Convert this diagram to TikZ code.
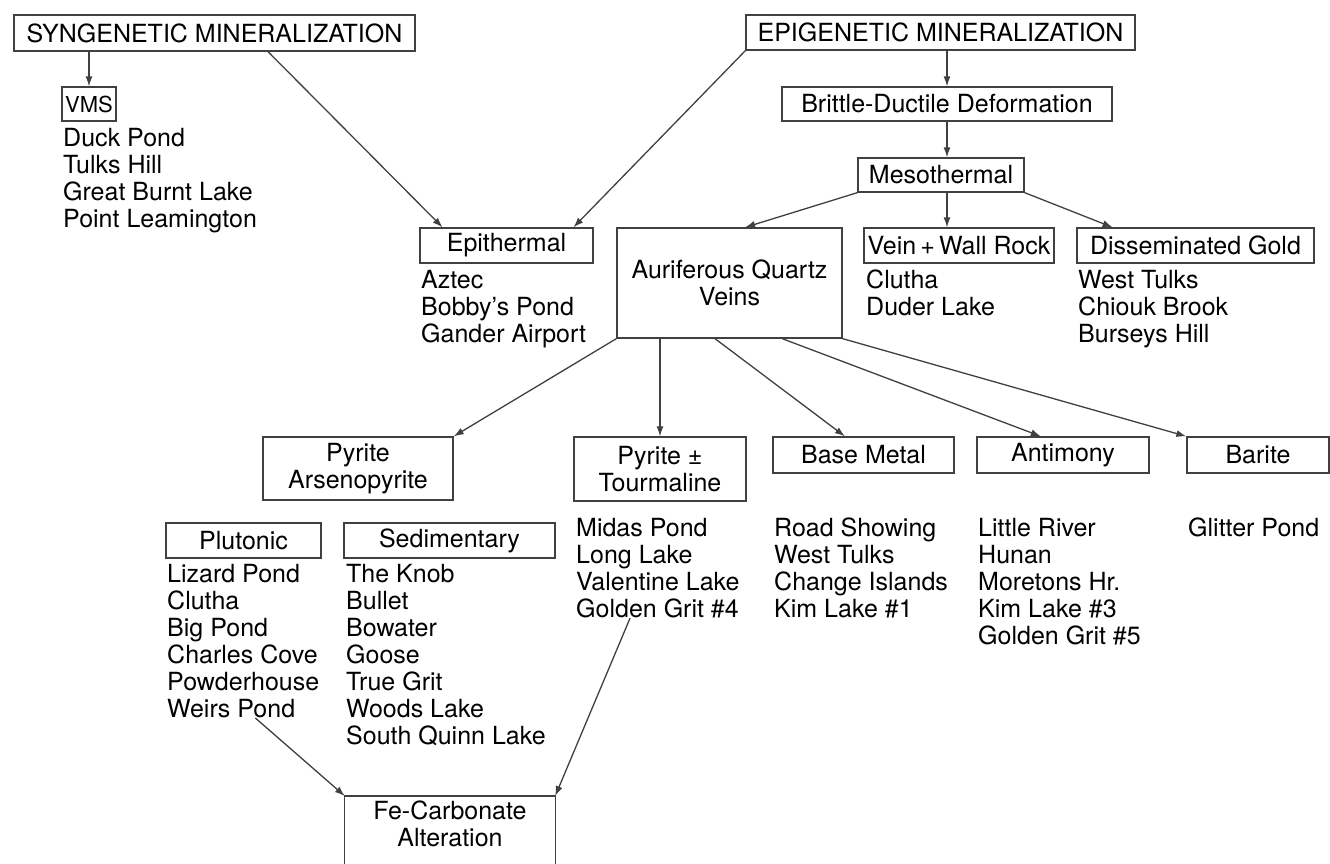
\documentclass[tikz,border=0pt]{standalone}
\usepackage{fontspec}
\setmainfont{TeX Gyre Heros}
\usetikzlibrary{arrows.meta,calc}

\begin{document}
\begin{tikzpicture}[x=1pt,y=-1pt,
				every node/.style={font=\fontsize{25}{27}\selectfont, inner sep=0pt},
				boxline/.style={draw=black!75, line width=1.3pt},
				box/.style={boxline, align=center},
				list/.style={anchor=north west, align=left},
				link/.style={boxline, -{Latex[length=10pt,width=7pt]}}
				]
				
				\useasboundingbox[fill=white] (0,0) rectangle (1330,863);
				
				\node[box, minimum width=401pt, minimum height=36pt] (syn) at (214.5,33) {SYNGENETIC MINERALIZATION};
				\node[box, minimum width=389pt, minimum height=35pt] (epi) at (940.5,32.5) {EPIGENETIC MINERALIZATION};
				\node[box, minimum width=54pt, minimum height=34pt, font=\fontsize{22}{24}\selectfont] (vms) at (89,104) {VMS};
				\node[box, minimum width=330pt, minimum height=34pt] (brit) at (947,104) {Brittle-Ductile Deformation};
				\node[box, minimum width=166pt, minimum height=34pt] (meso) at (941,175) {Mesothermal};
				\node[box, minimum width=173pt, minimum height=35pt] (epith) at (506.5,245.5) {Epithermal};
				\node[box, minimum width=225pt, minimum height=110pt] (aur) at (729.5,283) {Auriferous Quartz\\Veins};
				\node[box, minimum width=190pt, minimum height=35pt] (vein) at (959,245.5) {Vein\,+\,Wall Rock};
				\node[box, minimum width=237pt, minimum height=35pt] (diss) at (1195.5,245.5) {Disseminated Gold};
				
				\node[box, minimum width=190pt, minimum height=63pt] (arseno) at (358,468.5) {Pyrite\\Arsenopyrite};
				\node[box, minimum width=172pt, minimum height=64pt] (tour) at (660,469) {Pyrite ±\\Tourmaline};
				\node[box, minimum width=181pt, minimum height=36pt] (base) at (863.5,455) {Base Metal};
				\node[box, minimum width=172pt, minimum height=36pt] (antim) at (1063,455) {Antimony};
				\node[box, minimum width=142pt, minimum height=36pt] (barite) at (1258,455) {Barite};
				\node[box, minimum width=155pt, minimum height=35pt] (pluto) at (243.5,540.5) {Plutonic};
				\node[box, minimum width=211pt, minimum height=35pt] (sedim) at (449.5,540.5) {Sedimentary};
				\node[align=center, minimum width=210pt, inner ysep=5pt, anchor=north] (fe) at (450,796) {Fe-Carbonate\\Alteration};
				\draw[boxline] ($(fe.south west)+(0,40)$) -- (fe.north west) -- (fe.north east) -- ($(fe.south east)+(0,40)$);
				
				\node[list] (vmslist) at (63,128) {Duck Pond\\Tulks Hill\\Great Burnt Lake\\Point Leamington};
				\node[list] (epilist) at (421,270) {Aztec\\Bobby’s Pond\\Gander Airport};
				\node[list] (veinlist) at (866,270) {Clutha\\Duder Lake};
				\node[list] (disslist) at (1078,270) {West Tulks\\Chiouk Brook\\Burseys Hill};
				\node[list] (plulist) at (167,564) {Lizard Pond\\Clutha\\Big Pond\\Charles Cove\\Powderhouse\\Weirs Pond};
				\node[list] (sedlist) at (346,564) {The Knob\\Bullet\\Bowater\\Goose\\True Grit\\Woods Lake\\South Quinn Lake};
				\node[list] (tourlist) at (576,518) {Midas Pond\\Long Lake\\Valentine Lake\\Golden Grit \#4};
				\node[list] (baselist) at (774,518) {Road Showing\\West Tulks\\Change Islands\\Kim Lake \#1};
				\node[list] (antlist) at (978,518) {Little River\\Hunan\\Moretons Hr.\\Kim Lake \#3\\Golden Grit \#5};
				\node[list] (barlist) at (1188,518) {Glitter Pond};
				
				\draw[link] (syn.south -| vms.north) -- (vms.north);
				\draw[link] ($(syn.south west)!0.633!(syn.south east)$) -- ($(epith.north west)!0.133!(epith.north east)$);
				\draw[link] (epi.south west) -- ($(epith.north west)!0.884!(epith.north east)$);
				\draw[link] (epi.south -| brit.north) -- (brit.north);
				\draw[link] (brit.south) -- (brit.south |- meso.north);
				\draw[link] (meso.south west) -- ($(aur.north west)!0.569!(aur.north east)$);
				\draw[link] (meso.south -| brit.south) -- (vein.north -| brit.south);
				\draw[link] (meso.south east) -- ($(diss.north west)!0.152!(diss.north east)$);
				\draw[link] (aur.south west) -- (arseno.north east);
				\draw[link] (aur.south -| tour.north) -- (tour.north);
				\draw[link] ($(aur.south west)!0.436!(aur.south east)$) -- ($(base.north west)!0.398!(base.north east)$);
				\draw[link] ($(aur.south west)!0.733!(aur.south east)$) -- ($(antim.north west)!0.372!(antim.north east)$);
				\draw[link] (aur.south east) -- (barite.north west);
				\draw[link] ($(plulist.south west)!0.58!(plulist.south east)$) -- (fe.north west);
				\draw[link] ($(tourlist.south west)!0.33!(tourlist.south east)$) -- (fe.north east);
				
			\end{tikzpicture}
\end{document}
